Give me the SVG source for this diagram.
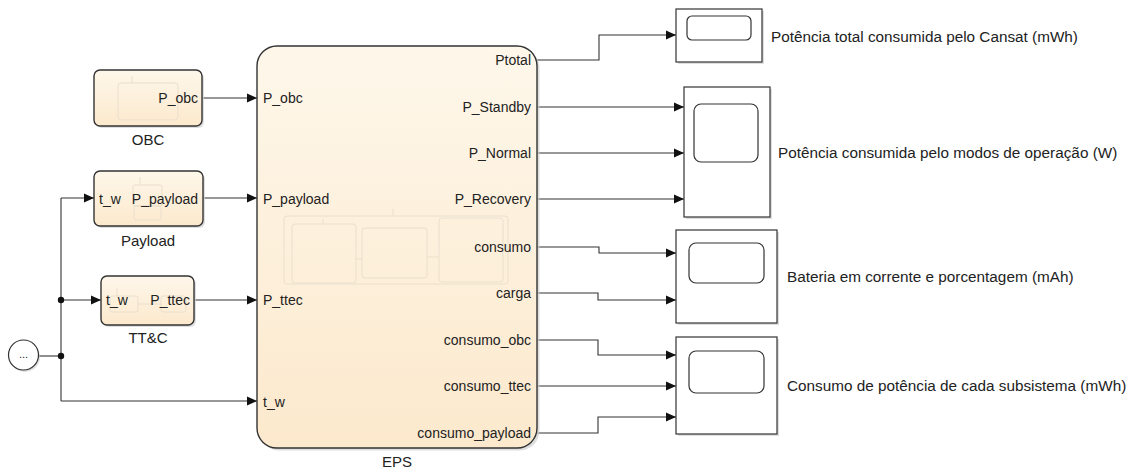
<svg xmlns="http://www.w3.org/2000/svg" width="1132" height="468" viewBox="0 0 1132 468">
<style>
text{font-family:"Liberation Sans",Arial,sans-serif;fill:#222}
.port{font-size:14px}
.blab{font-size:15px}
.rlab{font-size:15.3px}
.blk{stroke:#333;stroke-width:1.4}
.faint{fill:none;stroke:#eadfce;stroke-width:1}
.scope{fill:#fff;stroke:#333;stroke-width:1.2}
.scin{fill:none;stroke:#333;stroke-width:1.2}
.shadow{fill:#d0d0d0;opacity:0.7}
.conn path{fill:none;stroke:#333;stroke-width:1.1}
</style>
<defs>
<linearGradient id="g" x1="0" y1="0" x2="0" y2="1">
<stop offset="0" stop-color="#fef7ea"/>
<stop offset="1" stop-color="#fce9cd"/>
</linearGradient>
<marker id="ah" markerUnits="userSpaceOnUse" markerWidth="10" markerHeight="10" refX="10" refY="5" orient="auto" viewBox="0 0 10 10">
<path d="M0,0.5 L10,5 L0,9.5 z" fill="#111"/>
</marker>
</defs>

<g class="conn" id="connectors">
<path d="M202,98 H257" marker-end="url(#ah)"/>
<path d="M203,198 H257" marker-end="url(#ah)"/>
<path d="M194,300 H257" marker-end="url(#ah)"/>
<path d="M39,356 H61"/>
<path d="M61,198 V401"/>
<path d="M61,198 H94" marker-end="url(#ah)"/>
<path d="M61,300 H101" marker-end="url(#ah)"/>
<path d="M61,401 H257" marker-end="url(#ah)"/>
<path d="M537,60 H599 V35 H676" marker-end="url(#ah)"/>
<path d="M537,107 H684" marker-end="url(#ah)"/>
<path d="M537,153 H684" marker-end="url(#ah)"/>
<path d="M537,199 H684" marker-end="url(#ah)"/>
<path d="M537,247 H599 V253 H676" marker-end="url(#ah)"/>
<path d="M537,293 H598 V300 H676" marker-end="url(#ah)"/>
<path d="M537,340 H598 V355 H676" marker-end="url(#ah)"/>
<path d="M537,386 H676" marker-end="url(#ah)"/>
<path d="M537,433 H598 V417 H676" marker-end="url(#ah)"/>
<circle cx="61" cy="300" r="3.2" fill="#111"/>
<circle cx="61" cy="356" r="3.2" fill="#111"/>
</g>

<g id="source">
<circle cx="25" cy="357" r="15" fill="#ccc" opacity="0.6"/>
<circle cx="23.5" cy="355" r="15" fill="#fff" stroke="#333" stroke-width="1.2"/>
<text x="23.5" y="358" font-size="11" text-anchor="middle" fill="#555">...</text>
</g>

<g id="OBC">
<rect x="96" y="72" width="108" height="56" rx="6" class="shadow"/>
<rect x="94" y="70" width="108" height="56" rx="6" fill="url(#g)" class="blk"/>
<rect x="118" y="83" width="60" height="37" rx="3" class="faint"/>
<path d="M132,76 V83" class="faint"/>
<text x="198" y="103" class="port" text-anchor="end">P_obc</text>
<text x="148" y="145" class="blab" text-anchor="middle">OBC</text>
</g>

<g id="Payload">
<rect x="96" y="173" width="109" height="55" rx="6" class="shadow"/>
<rect x="94" y="171" width="109" height="55" rx="6" fill="url(#g)" class="blk"/>
<rect x="133" y="185" width="29" height="21" rx="2" class="faint"/>
<rect x="134" y="206" width="27" height="14" rx="2" class="faint"/>
<path d="M140,177 V185" class="faint"/>
<text x="99" y="204" class="port">t_w</text>
<text x="198" y="204" class="port" text-anchor="end">P_payload</text>
<text x="148" y="246" class="blab" text-anchor="middle">Payload</text>
</g>

<g id="TTC">
<rect x="103" y="278" width="93" height="49" rx="6" class="shadow"/>
<rect x="101" y="276" width="93" height="49" rx="6" fill="url(#g)" class="blk"/>
<rect x="110" y="296" width="28" height="16" rx="2" class="faint"/>
<rect x="161" y="296" width="25" height="16" rx="2" class="faint"/>
<path d="M138,304 H161 M117,288 V296" class="faint"/>
<text x="106" y="305" class="port">t_w</text>
<text x="190" y="305" class="port" text-anchor="end">P_ttec</text>
<text x="148" y="343" class="blab" text-anchor="middle">TT&amp;C</text>
</g>

<g id="EPS">
<rect x="259.5" y="48.5" width="280" height="402" rx="20" class="shadow"/>
<rect x="257" y="46" width="280" height="402" rx="20" fill="url(#g)" class="blk"/>
<rect x="284" y="216" width="224" height="68" rx="3" class="faint"/>
<rect x="292" y="224" width="64" height="59" rx="3" class="faint"/>
<rect x="362" y="228" width="65" height="50" rx="3" class="faint"/>
<rect x="439" y="218" width="64" height="64" rx="3" class="faint"/>
<path d="M356,259 H362 M427,257 H439 M323,219 V224 M393,209 V216" class="faint"/>
<text x="263" y="103" class="port">P_obc</text>
<text x="263" y="204" class="port">P_payload</text>
<text x="263" y="305" class="port">P_ttec</text>
<text x="263" y="407" class="port">t_w</text>
<text x="531" y="65" class="port" text-anchor="end">Ptotal</text>
<text x="531" y="112" class="port" text-anchor="end">P_Standby</text>
<text x="531" y="158" class="port" text-anchor="end">P_Normal</text>
<text x="531" y="204" class="port" text-anchor="end">P_Recovery</text>
<text x="531" y="252" class="port" text-anchor="end">consumo</text>
<text x="531" y="298" class="port" text-anchor="end">carga</text>
<text x="531" y="345" class="port" text-anchor="end">consumo_obc</text>
<text x="531" y="391" class="port" text-anchor="end">consumo_ttec</text>
<text x="531" y="438" class="port" text-anchor="end">consumo_payload</text>
<text x="397" y="467" class="blab" text-anchor="middle">EPS</text>
</g>

<g id="Scope1">
<rect x="678" y="11" width="86" height="53" class="shadow"/>
<rect x="676" y="9" width="86" height="53" class="scope"/>
<rect x="687" y="16" width="64" height="24" rx="5" class="scin"/>
<text x="771" y="42" class="rlab">Potência total consumida pelo Cansat (mWh)</text>
</g>

<g id="Scope2">
<rect x="686" y="89" width="86" height="130" class="shadow"/>
<rect x="684" y="87" width="86" height="130" class="scope"/>
<rect x="694" y="104" width="64" height="58" rx="7" class="scin"/>
<text x="778" y="158" class="rlab">Potência consumida pelo modos de operação (W)</text>
</g>

<g id="Scope3">
<rect x="678" y="232" width="101" height="93" class="shadow"/>
<rect x="676" y="230" width="101" height="93" class="scope"/>
<rect x="689" y="243" width="75" height="40" rx="7" class="scin"/>
<text x="787" y="282" class="rlab">Bateria em corrente e porcentagem (mAh)</text>
</g>

<g id="Scope4">
<rect x="678" y="339" width="101" height="97" class="shadow"/>
<rect x="676" y="337" width="101" height="97" class="scope"/>
<rect x="689" y="351" width="75" height="42" rx="7" class="scin"/>
<text x="787" y="391" class="rlab">Consumo de potência de cada subsistema (mWh)</text>
</g>
</svg>
